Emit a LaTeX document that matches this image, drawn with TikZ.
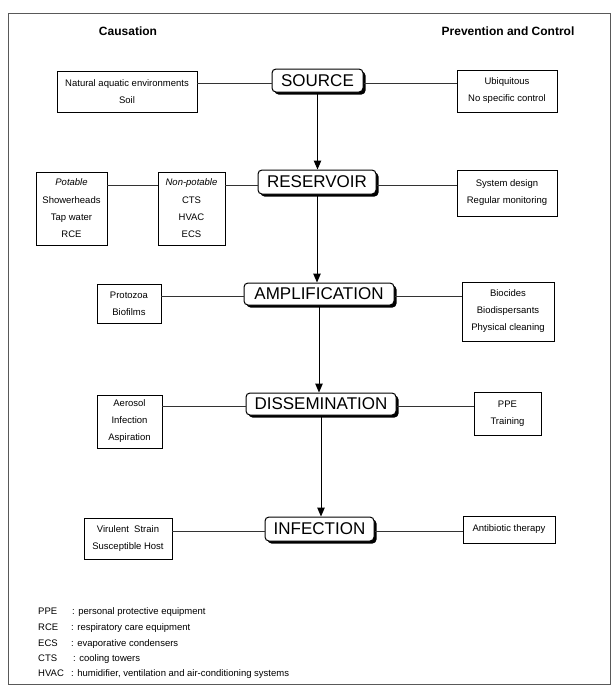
\documentclass[tikz,border=0pt]{standalone}
\usepackage{fontspec}
\setmainfont{Liberation Sans}
\usetikzlibrary{arrows.meta,shadows}

\begin{document}
\begin{tikzpicture}[x=1pt,y=-1pt,
  mainbox/.style={draw, line width=1pt, rounded corners=4pt, fill=white, inner sep=0pt,
    font=\fontsize{17}{20}\selectfont,
    drop shadow={shadow xshift=2.5pt, shadow yshift=-2.5pt, fill=black, opacity=1}},
  sidebox/.style={draw, line width=0.8pt, inner sep=0pt, align=center, fill=white,
    font=\fontsize{9.5}{17}\selectfont},
  link/.style={line width=0.6pt, black!80},
  flow/.style={line width=1pt, -{Triangle[length=9pt,width=7.5pt]}},
  head/.style={font=\bfseries\fontsize{12}{14}\selectfont},
  legend/.style={anchor=base west, inner sep=0pt, font=\fontsize{9.5}{11}\selectfont}
]
\useasboundingbox (0,0) rectangle (612,686);
\draw[black!65, line width=0.8pt] (8,13) rectangle (610,684);

% headers
\node[head] (hcause) at (128,31) {Causation};
\node[head] (hprev) at (508,31) {Prevention and Control};

% main chain
\node[mainbox, minimum width=91pt, minimum height=23pt] (source) at (317.5,80.5) {SOURCE};
\node[mainbox, minimum width=118pt, minimum height=24pt] (reservoir) at (317,182) {RESERVOIR};
\node[mainbox, minimum width=150pt, minimum height=22pt] (amp) at (319,294) {AMPLIFICATION};
\node[mainbox, minimum width=150pt, minimum height=22pt] (diss) at (321,404) {DISSEMINATION};
\node[mainbox, minimum width=109pt, minimum height=24pt] (inf) at (319.5,529) {INFECTION};

% causation boxes
\node[sidebox, minimum width=140pt, minimum height=41pt] (nat) at (127,91.5)
  {Natural aquatic environments\\Soil};
\node[sidebox, minimum width=71pt, minimum height=73pt] (pot) at (71.5,208.5)
  {{\itshape Potable}\\[1pt]Showerheads\\Tap water\\RCE};
\node[sidebox, minimum width=67pt, minimum height=73pt] (npot) at (191.5,208.5)
  {{\itshape Non-potable}\\[1pt]CTS\\HVAC\\ECS};
\node[sidebox, minimum width=64pt, minimum height=39pt] (proto) at (129,303.5)
  {Protozoa\\Biofilms};
\node[sidebox, minimum width=65pt, minimum height=53pt] (aero) at (129.5,421.5)
  {Aerosol\\Infection\\Aspiration};
\node[sidebox, minimum width=88pt, minimum height=41pt] (vir) at (128,538.5)
  {Virulent\ \ Strain\\Susceptible Host};

% prevention boxes
\node[sidebox, minimum width=100pt, minimum height=42pt] (ubiq) at (507,91)
  {Ubiquitous\\No specific control};
\node[sidebox, minimum width=100pt, minimum height=46pt] (sysd) at (507,193)
  {System design\\Regular monitoring};
\node[sidebox, minimum width=92pt, minimum height=59pt] (bioc) at (508,311.5)
  {Biocides\\Biodispersants\\Physical cleaning};
\node[sidebox, minimum width=67pt, minimum height=43pt] (ppe) at (507.5,413.5)
  {PPE\\Training};
\node[sidebox, minimum width=92pt, minimum height=27pt] (abx) at (509,529.5)
  {Antibiotic therapy};

% connector levels
\coordinate (cs) at ([yshift=-3pt]source.center);
\coordinate (cr) at ([yshift=-3pt]reservoir.center);
\coordinate (ca) at ([yshift=-2.5pt]amp.center);
\coordinate (cd) at ([yshift=-2.5pt]diss.center);
\coordinate (ci) at ([yshift=-2pt]inf.center);

% horizontal links
\draw[link] (cs -| nat.east) -- (cs -| source.west);
\draw[link] (cs -| source.east) -- (cs -| ubiq.west);
\draw[link] (cr -| pot.east) -- (cr -| npot.west);
\draw[link] (cr -| npot.east) -- (cr -| reservoir.west);
\draw[link] (cr -| reservoir.east) -- (cr -| sysd.west);
\draw[link] (ca -| proto.east) -- (ca -| amp.west);
\draw[link] (ca -| amp.east) -- (ca -| bioc.west);
\draw[link] (cd -| aero.east) -- (cd -| diss.west);
\draw[link] (cd -| diss.east) -- (cd -| ppe.west);
\draw[link] (ci -| vir.east) -- (ci -| inf.west);
\draw[link] (ci -| inf.east) -- (ci -| abx.west);

% vertical flow
\draw[flow] (source.south) -- (source.south |- reservoir.north);
\draw[flow] (reservoir.south) -- (reservoir.south |- amp.north);
\draw[flow] (amp.south) -- (amp.south |- diss.north);
\draw[flow] (diss.south) -- (diss.south |- inf.north);

% legend
\node[legend] (l1a) at (38,614.5) {PPE};
\node[legend] (l1b) at (72,614.5) {: personal protective equipment};
\node[legend] (l2a) at (38,630.5) {RCE};
\node[legend] (l2b) at (71,630.5) {: respiratory care equipment};
\node[legend] (l3a) at (38,646.5) {ECS};
\node[legend] (l3b) at (71,646.5) {: evaporative condensers};
\node[legend] (l4a) at (38,661.5) {CTS};
\node[legend] (l4b) at (73,661.5) {: cooling towers};
\node[legend] (l5a) at (38,676.5) {HVAC};
\node[legend] (l5b) at (71,676.5) {: humidifier, ventilation and air-conditioning systems};
\end{tikzpicture}
\end{document}
